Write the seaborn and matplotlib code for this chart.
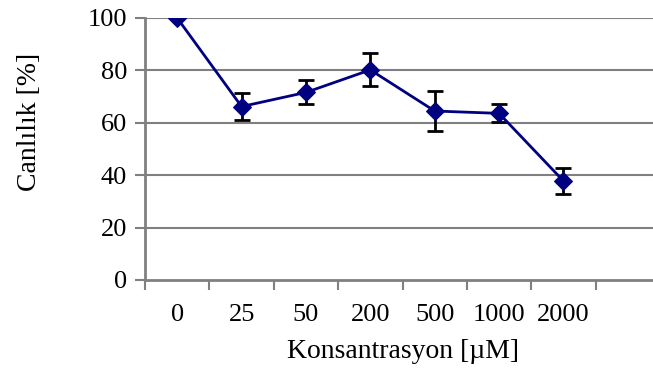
import matplotlib
matplotlib.use("Agg")
import matplotlib.pyplot as plt
import seaborn as sns
import pandas as pd
import numpy as np
from matplotlib.ticker import FixedLocator, FixedFormatter

categories = ["0", "25", "50", "200", "500", "1000", "2000"]
viability = [100.0, 66.2, 71.6, 80.2, 64.5, 63.6, 37.8]
errors = [0.0, 5.0, 4.6, 6.3, 7.6, 3.4, 5.0]
y_ticks = [0, 20, 40, 60, 80, 100]

sns.set_theme(style="white")
plt.rcParams['font.family'] = ['Liberation Serif', 'DejaVu Serif']
plt.rcParams['text.color'] = 'black'
plt.rcParams['axes.labelcolor'] = 'black'
plt.rcParams['xtick.color'] = 'black'
plt.rcParams['ytick.color'] = 'black'

df = pd.DataFrame({"pos": np.arange(len(categories)), "val": viability, "err": errors})

fig = plt.figure(figsize=(6.53, 3.74), dpi=100)
ax = fig.add_axes([145/653, 1-280/374, 515/653, 262/374])

for yv in y_ticks[1:]:
    ax.axhline(yv, color="#808080", lw=1.5, zorder=0)

sub = df[df["err"] > 0]
ax.errorbar(sub["pos"], sub["val"], yerr=sub["err"], fmt="none", ecolor="black",
            elinewidth=2, capsize=5.5, capthick=2, zorder=2)
sns.lineplot(data=df, x="pos", y="val", ax=ax, color="#000080", lw=2,
             marker="D", markersize=9, markeredgecolor="#000080", zorder=3)

ax.set_xlim(-0.5, 7.5)
ax.set_ylim(0, 100)
ax.set_yticks(y_ticks)
ax.set_yticklabels([str(v) for v in y_ticks])
ax.xaxis.set_major_locator(FixedLocator(np.arange(-0.5, 7.0, 1.0)))
ax.xaxis.set_major_formatter(FixedFormatter([""] * 8))
ax.xaxis.set_minor_locator(FixedLocator(np.arange(len(categories))))
ax.xaxis.set_minor_formatter(FixedFormatter(categories))
ax.tick_params(axis="x", which="major", length=7, width=1.5, color="#808080", direction="out", bottom=True)
ax.tick_params(axis="x", which="minor", length=0, labelsize=19, pad=17, bottom=True, labelcolor="black")
ax.tick_params(axis="y", length=7, width=1.5, color="#808080", direction="out", labelsize=19, pad=6, left=True, labelcolor="black")

for s in ["top", "right"]:
    ax.spines[s].set_visible(False)
for s in ["left", "bottom"]:
    ax.spines[s].set_color("#808080")
    ax.spines[s].set_linewidth(2)
    ax.spines[s].set_zorder(4)

ax.set_xlabel("Konsantrasyon [µM]", fontsize=20, labelpad=10, color="black")
ax.set_ylabel("Canlılık [%]", fontsize=20, color="black")
ax.yaxis.set_label_coords(-0.2, 0.603)

fig.savefig("out.png", dpi=100)
